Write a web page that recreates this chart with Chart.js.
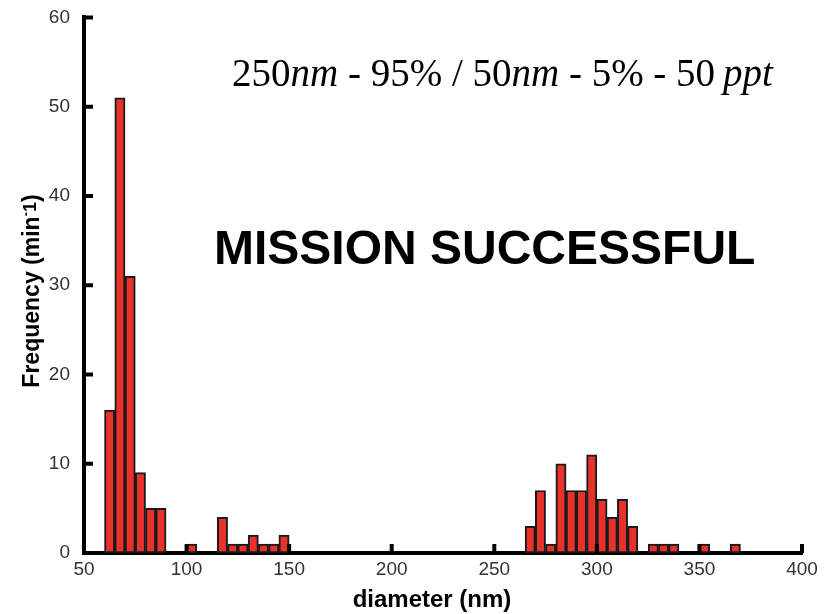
<!DOCTYPE html>
<html>
<head>
<meta charset="utf-8">
<script src="https://cdn.jsdelivr.net/npm/chart.js@4.4.1/dist/chart.umd.min.js"></script>
<style>
  html, body { margin: 0; padding: 0; background: #fff; }
  #wrap { width: 832px; height: 614px; position: relative; }
</style>
</head>
<body>
<div id="wrap"><canvas id="chart" width="832" height="614"></canvas></div>
<script>
// histogram bins (start of each 5 nm bin) and counts
const BIN_WIDTH = 5;
const binStarts = [60, 65, 70, 75, 80, 85, 100, 115, 120, 125, 130, 135, 140, 145,
  265, 270, 275, 280, 285, 290, 295, 300, 305, 310, 315, 325, 330, 335, 350, 365];
const counts = [16, 51, 31, 9, 5, 5, 1, 4, 1, 1, 2, 1, 1, 2,
  3, 7, 1, 10, 7, 7, 11, 6, 4, 6, 3, 1, 1, 1, 1, 1];
const xTicks = [50, 100, 150, 200, 250, 300, 350, 400];
const yTicks = [0, 10, 20, 30, 40, 50, 60];
const xLabel = "diameter (nm)";
// y label: [text, size, raise]
const yLabelParts = [["Frequency (min", 23, 0], ["-", 13, 9], ["1", 18, 3], [")", 23, 0]];
const headline = "MISSION SUCCESSFUL";
// [text, italic]
const subtitleParts = [
  ["250", false], ["nm", true], [" - 95% / 50", false], ["nm", true],
  [" - 5% - 50", false], ["\u2009ppt", true]
];

const points = binStarts.map((b, i) => ({ x: b + BIN_WIDTH / 2, y: counts[i] }));
const SANS = "'Liberation Sans', Arial, sans-serif";

// inward tick marks, axis titles and annotation text
const extrasPlugin = {
  id: "extras",
  afterDraw(chart) {
    const { ctx, chartArea, scales: { x, y } } = chart;
    ctx.save();
    ctx.strokeStyle = "#000";
    ctx.lineWidth = 4;
    ctx.beginPath();
    xTicks.forEach(v => {
      const px = x.getPixelForValue(v);
      ctx.moveTo(px, chartArea.bottom);
      ctx.lineTo(px, chartArea.bottom - 9);
    });
    yTicks.forEach(v => {
      const py = y.getPixelForValue(v);
      ctx.moveTo(chartArea.left, py);
      ctx.lineTo(chartArea.left + 9, py);
    });
    ctx.stroke();

    ctx.fillStyle = "#000";
    ctx.textBaseline = "alphabetic";

    // x axis title
    ctx.textAlign = "center";
    ctx.font = "bold 24px " + SANS;
    ctx.fillText(xLabel, 432, 607);

    // y axis title, rotated, with superscript
    ctx.textAlign = "left";
    let total = 0;
    yLabelParts.forEach(([t, s]) => {
      ctx.font = "bold " + s + "px " + SANS;
      total += ctx.measureText(t).width;
    });
    ctx.save();
    ctx.translate(39, 291);
    ctx.rotate(-Math.PI / 2);
    let lx = -total / 2;
    yLabelParts.forEach(([t, s, r]) => {
      ctx.font = "bold " + s + "px " + SANS;
      ctx.fillText(t, lx, -r);
      lx += ctx.measureText(t).width;
    });
    ctx.restore();

    // subtitle with italic units
    let cx = 232;
    subtitleParts.forEach(([t, it]) => {
      ctx.font = (it ? "italic " : "") + "39px 'Liberation Serif', 'Times New Roman', serif";
      ctx.fillText(t, cx, 86);
      cx += ctx.measureText(t).width;
    });

    ctx.font = "bold 48px " + SANS;
    ctx.fillText(headline, 214, 264);
    ctx.restore();
  }
};

new Chart(document.getElementById("chart"), {
  type: "bar",
  data: {
    datasets: [{
      data: points,
      backgroundColor: "#e8312a",
      borderColor: "#1a1a1a",
      borderWidth: 2,
      borderSkipped: false,
      barPercentage: 1,
      categoryPercentage: 1,
    }],
  },
  options: {
    responsive: false,
    animation: false,
    layout: { padding: { top: 16, right: 30, left: 0, bottom: 0 } },
    plugins: { legend: { display: false }, tooltip: { enabled: false } },
    scales: {
      x: {
        type: "linear",
        min: 50,
        max: 400,
        offset: false,
        afterBuildTicks(scale) { scale.ticks = xTicks.map(v => ({ value: v })); },
        afterFit(scale) { scale.height = 61; },
        grid: { display: false },
        border: { display: true, color: "#000", width: 4 },
        ticks: {
          color: "#333",
          padding: -3,
          font: { family: SANS, size: 19 },
          maxRotation: 0,
          autoSkip: false,
        },
      },
      y: {
        min: 0,
        max: 60,
        afterBuildTicks(scale) { scale.ticks = yTicks.map(v => ({ value: v })); },
        afterFit(scale) { scale.width = 84; },
        grid: { display: false },
        border: { display: true, color: "#000", width: 4 },
        ticks: {
          color: "#333",
          padding: 6,
          font: { family: SANS, size: 19 },
        },
      },
    },
  },
  plugins: [extrasPlugin],
});
</script>
</body>
</html>
